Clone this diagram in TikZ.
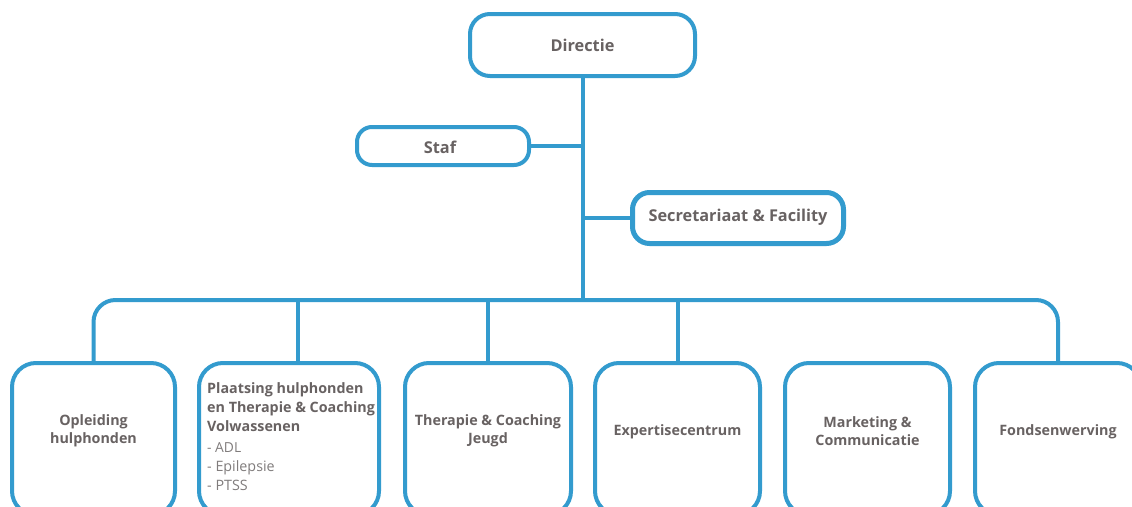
\documentclass[tikz,border=0pt]{standalone}
\usepackage{fontspec}
\setmainfont{Open Sans}
\definecolor{lineblue}{RGB}{51,155,206}
\definecolor{txtgray}{RGB}{104,98,98}
\definecolor{listgray}{RGB}{128,124,124}
\begin{document}
\begin{tikzpicture}[x=1pt,y=-1pt,
  box/.style={draw=lineblue, line width=4pt, fill=white, inner sep=0pt},
  conn/.style={draw=lineblue, line width=4pt},
  toptxt/.style={text=txtgray, font=\fontsize{16.3}{19}\selectfont\bfseries, inner sep=0pt},
  bottxt/.style={text=txtgray, font=\fontsize{14.3}{18.5}\selectfont\bfseries, align=center, inner sep=0pt}]
\useasboundingbox (0,0) rectangle (1132,506);
\clip (0,0) rectangle (1132,506);
% top boxes
\node[box, rounded corners=20pt, minimum width=225pt, minimum height=62pt] (dir) at (582.5,45) {};
\node[toptxt] (dirt) at (582.5,45) {Directie};
\node[box, rounded corners=15pt, minimum width=172pt, minimum height=38pt] (staf) at (443,146) {};
\node[toptxt] (staft) at (440,147) {Staf};
\node[box, line width=5pt, rounded corners=17pt, minimum width=211pt, minimum height=51pt] (sec) at (738,218) {};
\node[toptxt] (sect) at (738,217) {Secretariaat \& Facility};
% bottom boxes
\node[box, rounded corners=24pt, minimum width=163pt, minimum height=152pt] (b1) at (93.5,439) {};
\node[box, rounded corners=24pt, minimum width=180pt, minimum height=152pt] (b2) at (289,439) {};
\node[box, rounded corners=24pt, minimum width=166pt, minimum height=152pt] (b3) at (488,439) {};
\node[box, rounded corners=24pt, minimum width=165pt, minimum height=152pt] (b4) at (677.5,439) {};
\node[box, rounded corners=24pt, minimum width=165pt, minimum height=152pt] (b5) at (867.5,439) {};
\node[box, rounded corners=24pt, minimum width=166pt, minimum height=152pt] (b6) at (1058,439) {};
\node[bottxt] (t1) at (93.5,431) {Opleiding\\hulphonden};
\node[text=txtgray, font=\fontsize{14.3}{19}\selectfont, align=left, inner sep=0pt, anchor=north west] (t2) at (207,382.5)
  {\bfseries Plaatsing hulphonden\\\bfseries en Therapie \& Coaching\\\bfseries Volwassenen\\[2pt]
   \fontsize{13.8}{18.5}\selectfont\color{listgray}- ADL\\\color{listgray}- Epilepsie\\\color{listgray}- PTSS};
\node[bottxt] (t3) at (488,431) {Therapie \& Coaching\\Jeugd};
\node[bottxt] (t4) at (677.5,431.5) {Expertisecentrum};
\node[bottxt] (t5) at (867.5,431) {Marketing \&\\Communicatie};
\node[bottxt] (t6) at (1058,431.5) {Fondsenwerving};
% connectors
\coordinate (bus) at (583,300);
\coordinate (j2) at (298,300);
\draw[conn] (dir.south -| bus) -- (bus);
\draw[conn] (staf.east) -- (staf.east -| bus);
\draw[conn] (sec.west) -- (sec.west -| bus);
\draw[conn, rounded corners=22pt] (b1.north) |- (bus) -| (b6.north);
\draw[conn] (j2) -- (j2 |- b2.north);
\draw[conn] (bus -| b3.north) -- (b3.north);
\draw[conn] (bus -| b4.north) -- (b4.north);
\end{tikzpicture}
\end{document}
